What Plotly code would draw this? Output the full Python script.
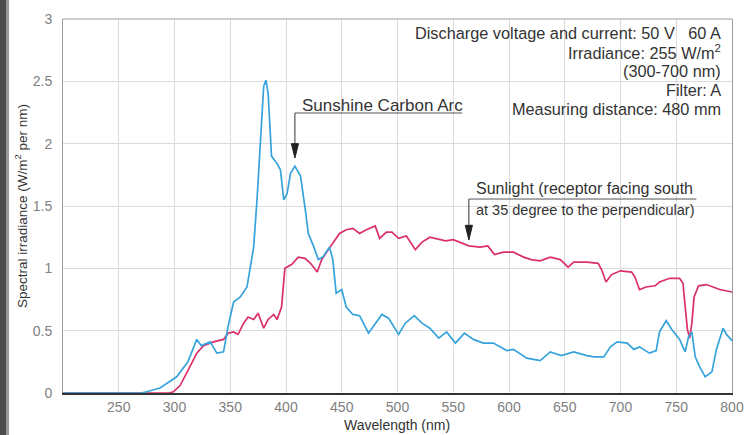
import plotly.graph_objects as go

# Sunshine Carbon Arc (blue)
arc_wl = [200, 270, 275, 287, 302, 312, 320, 324, 332, 338, 344, 348, 353, 359, 365, 371, 374, 377, 380, 382,
          384, 387, 392, 395, 398, 401, 404, 408, 413, 417, 420, 425, 429, 433, 439, 442, 445, 450, 454,
          460, 466, 474, 478, 486, 492, 501, 507, 515, 522, 529, 537, 544, 552, 560, 568, 577, 586,
          598, 604, 616, 628, 637, 647, 658, 670, 676, 685, 691, 697, 706, 712, 717, 726, 732, 735,
          741, 746, 753, 758, 761, 764, 767, 771, 776, 782, 786, 792, 795, 800]
arc_val = [0, 0, 0.01, 0.04, 0.13, 0.25, 0.43, 0.38, 0.41, 0.32, 0.33, 0.53, 0.73, 0.77, 0.85, 1.17, 1.55, 2.06, 2.46, 2.51,
           2.40, 1.90, 1.84, 1.79, 1.55, 1.60, 1.76, 1.82, 1.74, 1.49, 1.28, 1.17, 1.07, 1.09, 1.17, 1.07, 0.80, 0.83, 0.69,
           0.63, 0.62, 0.48, 0.53, 0.63, 0.60, 0.47, 0.56, 0.62, 0.56, 0.52, 0.44, 0.49, 0.40, 0.48, 0.43, 0.40, 0.40,
           0.34, 0.35, 0.28, 0.26, 0.33, 0.30, 0.33, 0.30, 0.29, 0.29, 0.37, 0.41, 0.40, 0.35, 0.37, 0.32, 0.34, 0.49,
           0.58, 0.51, 0.43, 0.33, 0.45, 0.49, 0.29, 0.21, 0.13, 0.17, 0.35, 0.52, 0.47, 0.42]

# Sunlight (magenta)
sun_wl = [200, 295, 299, 305, 312, 320, 326, 335, 344, 348, 353, 357, 362, 366, 371, 375, 380, 384, 389, 392,
          396, 399, 405, 411, 417, 422, 428, 432, 438, 444, 448, 454, 460, 466, 472, 480, 484, 490, 495,
          501, 508, 516, 522, 529, 537, 543, 550, 558, 564, 574, 581, 587, 595, 604, 613, 620, 628, 637,
          646, 653, 658, 670, 680, 683, 687, 692, 700, 710, 713, 717, 723, 731, 735, 744, 753, 756, 758,
          760, 762, 764, 766, 770, 777, 789, 800]
sun_val = [0, 0, 0.01, 0.06, 0.18, 0.32, 0.38, 0.41, 0.43, 0.48, 0.49, 0.47, 0.56, 0.61, 0.59, 0.64, 0.52, 0.59, 0.63, 0.59,
           0.69, 1.00, 1.03, 1.09, 1.08, 1.04, 0.97, 1.07, 1.15, 1.23, 1.28, 1.31, 1.32, 1.28, 1.31, 1.34, 1.24, 1.29, 1.29,
           1.24, 1.26, 1.15, 1.21, 1.25, 1.23, 1.22, 1.23, 1.20, 1.18, 1.17, 1.18, 1.11, 1.13, 1.13, 1.09, 1.07, 1.06, 1.09,
           1.07, 1.01, 1.05, 1.05, 1.04, 0.99, 0.89, 0.95, 0.98, 0.97, 0.93, 0.83, 0.85, 0.86, 0.89, 0.92, 0.92, 0.88, 0.69,
           0.51, 0.44, 0.56, 0.77, 0.86, 0.87, 0.83, 0.81]

x_ticks = [250, 300, 350, 400, 450, 500, 550, 600, 650, 700, 750, 800]
y_ticks = [0, 0.5, 1, 1.5, 2, 2.5, 3]
y_tick_text = ["0", "0.5", "1", "1.5", "2", "2.5", "3"]

info_lines = ["Discharge voltage and current: 50 V   60 A",
              "Irradiance: 255 W/m<sup>2</sup>",
              "(300-700 nm)",
              "Filter: A",
              "Measuring distance: 480 mm"]

x_title = "Wavelength (nm)"
y_title = "Spectral irradiance (W/m<sup>2</sup> per nm)"

FONT = "Liberation Sans, Arial, sans-serif"
BLUE = "#36a3dc"
MAG = "#da2f6c"

W, H = 748, 435
L, R, T, B = 63, 16, 19, 42
PW, PH = W - L - R, H - T - B

def px_x(px):
    return (px - L) / PW

def px_y(py):
    return (H - B - py) / PH

fig = go.Figure()
fig.add_trace(go.Scatter(x=sun_wl, y=sun_val, mode="lines", line=dict(color=MAG, width=1.7),
                         name="Sunlight", showlegend=False))
fig.add_trace(go.Scatter(x=arc_wl, y=arc_val, mode="lines", line=dict(color=BLUE, width=1.7),
                         name="Sunshine Carbon Arc", showlegend=False))

shapes = []
# left dark strip (photo edge)
shapes.append(dict(type="rect", xref="paper", yref="paper", x0=px_x(0), x1=px_x(6),
                   y0=px_y(H), y1=px_y(0), fillcolor="#4c4c4c", line=dict(width=0), layer="above"))
shapes.append(dict(type="rect", xref="paper", yref="paper", x0=px_x(6), x1=px_x(9),
                   y0=px_y(H), y1=px_y(0), fillcolor="#9a9a9a", line=dict(width=0), layer="above"))
# top frame line
shapes.append(dict(type="line", xref="paper", yref="paper", x0=0, x1=1, y0=1, y1=1,
                   line=dict(color="#9a9a9a", width=1)))
# leader lines: Sunshine Carbon Arc
shapes.append(dict(type="line", xref="x", yref="y", x0=408, x1=558, y0=2.246, y1=2.246,
                   line=dict(color="#555555", width=1)))
shapes.append(dict(type="line", xref="x", yref="y", x0=408, x1=408, y0=2.246, y1=1.99,
                   line=dict(color="#333333", width=1)))
shapes.append(dict(type="path", xref="x", yref="y",
                   path="M 404.8,2.0 L 411.2,2.0 L 408,1.885 Z",
                   fillcolor="#222222", line=dict(color="#222222", width=1)))
# leader lines: Sunlight
shapes.append(dict(type="line", xref="x", yref="y", x0=564, x1=768, y0=1.556, y1=1.556,
                   line=dict(color="#555555", width=1)))
shapes.append(dict(type="line", xref="x", yref="y", x0=564, x1=564, y0=1.556, y1=1.33,
                   line=dict(color="#333333", width=1)))
shapes.append(dict(type="path", xref="x", yref="y",
                   path="M 560.8,1.345 L 567.2,1.345 L 564,1.227 Z",
                   fillcolor="#222222", line=dict(color="#222222", width=1)))

annotations = []
for i, t in enumerate(info_lines):
    annotations.append(dict(xref="paper", yref="paper", x=px_x(723), y=px_y(33 + i * 19),
                            text=t, showarrow=False, xanchor="right", yanchor="middle",
                            font=dict(family=FONT, size=16.3, color="#333333")))
annotations.append(dict(xref="x", yref="y", x=412.5, y=2.31, text="Sunshine Carbon Arc",
                        showarrow=False, xanchor="left", yanchor="middle",
                        font=dict(family=FONT, size=17, color="#333333")))
annotations.append(dict(xref="x", yref="y", x=569, y=1.64, text="Sunlight (receptor facing south",
                        showarrow=False, xanchor="left", yanchor="middle",
                        font=dict(family=FONT, size=16, color="#333333")))
annotations.append(dict(xref="x", yref="y", x=569, y=1.47, text="at 35 degree to the perpendicular)",
                        showarrow=False, xanchor="left", yanchor="middle",
                        font=dict(family=FONT, size=14.5, color="#333333")))
# axis titles
annotations.append(dict(xref="paper", yref="paper", x=px_x(397), y=px_y(425), text=x_title,
                        showarrow=False, xanchor="center", yanchor="middle",
                        font=dict(family=FONT, size=14, color="#333333")))
annotations.append(dict(xref="paper", yref="paper", x=px_x(21), y=px_y(206), text=y_title,
                        showarrow=False, xanchor="center", yanchor="middle", textangle=-90,
                        font=dict(family=FONT, size=13.5, color="#333333")))

fig.update_layout(
    width=W, height=H,
    margin=dict(l=L, r=R, t=T, b=B, pad=0, autoexpand=False),
    paper_bgcolor="white", plot_bgcolor="white",
    shapes=shapes, annotations=annotations,
    font=dict(family=FONT, size=14, color="#666666"),
    xaxis=dict(range=[200, 800], tickvals=x_ticks, ticktext=[str(v) for v in x_ticks],
               showgrid=True, gridcolor="#dcdcdc", gridwidth=1, zeroline=False,
               showline=True, linecolor="#333333", linewidth=1.5, ticks="",
               automargin=False,
               tickfont=dict(family=FONT, size=14, color="#808080")),
    yaxis=dict(range=[0, 3], tickvals=y_ticks, ticktext=y_tick_text,
               showgrid=True, gridcolor="#dcdcdc", gridwidth=1, zeroline=False,
               showline=True, linecolor="#9a9a9a", linewidth=1, mirror=True, ticks="",
               ticklabelstandoff=7, automargin=False,
               tickfont=dict(family=FONT, size=14, color="#808080")),
)

fig.write_html("out.html")
